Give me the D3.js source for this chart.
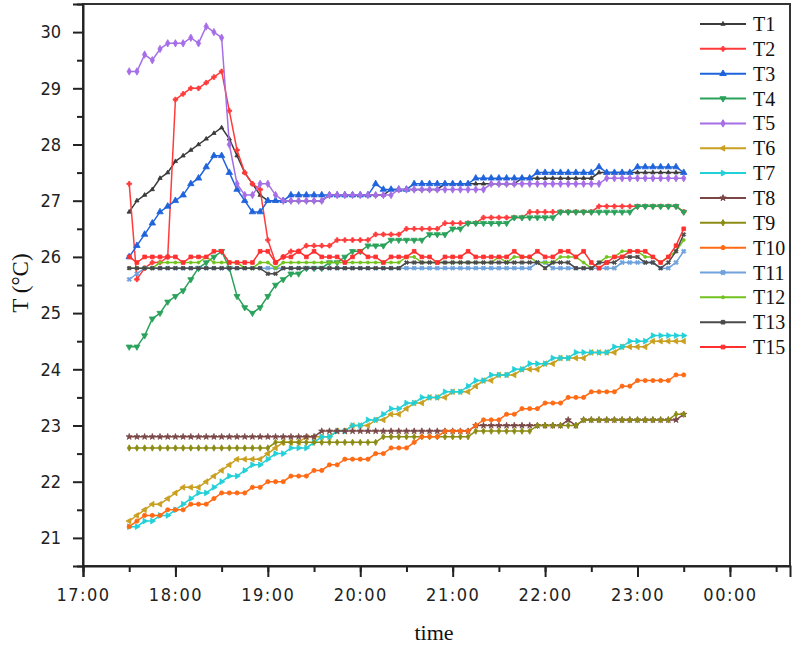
<!DOCTYPE html>
<html>
<head>
<meta charset="utf-8">
<script src="https://cdn.jsdelivr.net/npm/d3@7"></script>
<style>
body { margin: 0; background: #fff; }
.axis .tick text { font-family: "DejaVu Sans Condensed", "DejaVu Sans", sans-serif; font-size: 18px; fill: #222; }
.axis path, .axis line { stroke: #222; stroke-width: 2; }
.serif { font-family: "Liberation Serif", "Times New Roman", serif; fill: #111; }
</style>
</head>
<body>
<div id="chart"></div>
<script>
// sample times, every 5 minutes
let times = [
    "17:30","17:35","17:40","17:45","17:50","17:55",
    "18:00","18:05","18:10","18:15","18:20","18:25","18:30","18:35","18:40","18:45","18:50","18:55",
    "19:00","19:05","19:10","19:15","19:20","19:25","19:30","19:35","19:40","19:45","19:50","19:55",
    "20:00","20:05","20:10","20:15","20:20","20:25","20:30","20:35","20:40","20:45","20:50","20:55",
    "21:00","21:05","21:10","21:15","21:20","21:25","21:30","21:35","21:40","21:45","21:50","21:55",
    "22:00","22:05","22:10","22:15","22:20","22:25","22:30","22:35","22:40","22:45","22:50","22:55",
    "23:00","23:05","23:10","23:15","23:20","23:25","23:30"
];

let T1 = [26.8,27.0,27.1,27.2,27.4,27.5, 27.7,27.8,27.9,28.0,28.1,28.2, 28.3,28.1,27.8,27.5,27.3,27.1,
    27.0,27.0,27.0,27.0,27.0,27.0, 27.0,27.0,27.1,27.1,27.1,27.1, 27.1,27.1,27.1,27.1,27.2,27.2,
    27.2,27.2,27.2,27.2,27.2,27.3, 27.3,27.3,27.3,27.3,27.3,27.3, 27.3,27.3,27.3,27.4,27.4,27.4,
    27.4,27.4,27.4,27.4,27.4,27.4, 27.4,27.5,27.5,27.5,27.5,27.5, 27.5,27.5,27.5,27.5,27.5,27.5, 27.5];
let T2 = [27.3,25.6,25.8,25.9,25.9,26.0, 28.8,28.9,29.0,29.0,29.1,29.2, 29.3,28.6,27.9,27.5,27.3,27.2,
    26.3,25.9,26.0,26.1,26.1,26.2, 26.2,26.2,26.2,26.3,26.3,26.3, 26.3,26.3,26.4,26.4,26.4,26.4,
    26.5,26.5,26.5,26.5,26.5,26.6, 26.6,26.6,26.6,26.6,26.7,26.7, 26.7,26.7,26.7,26.7,26.8,26.8,
    26.8,26.8,26.8,26.8,26.8,26.8, 26.8,26.9,26.9,26.9,26.9,26.9, 26.9,26.9,26.9,26.9,26.9,26.9, 26.8];
let T3 = [26.0,26.2,26.4,26.6,26.8,26.9, 27.0,27.1,27.3,27.4,27.6,27.8, 27.8,27.5,27.2,27.0,26.8,26.8,
    27.0,27.0,27.0,27.1,27.1,27.1, 27.1,27.1,27.1,27.1,27.1,27.1, 27.1,27.1,27.3,27.2,27.2,27.2,
    27.2,27.3,27.3,27.3,27.3,27.3, 27.3,27.3,27.3,27.4,27.4,27.4, 27.4,27.4,27.4,27.4,27.4,27.5,
    27.5,27.5,27.5,27.5,27.5,27.5, 27.5,27.6,27.5,27.5,27.5,27.5, 27.6,27.6,27.6,27.6,27.6,27.6, 27.5];
let T4 = [24.4,24.4,24.6,24.9,25.0,25.2, 25.3,25.4,25.6,25.8,25.9,26.0, 26.1,25.8,25.3,25.1,25.0,25.1,
    25.3,25.5,25.6,25.7,25.7,25.8, 25.8,25.8,25.9,25.9,26.0,26.1, 26.1,26.2,26.2,26.2,26.3,26.3,
    26.3,26.3,26.3,26.4,26.4,26.4, 26.5,26.5,26.6,26.6,26.6,26.6, 26.6,26.6,26.7,26.7,26.7,26.7,
    26.7,26.7,26.8,26.8,26.8,26.8, 26.8,26.8,26.8,26.8,26.8,26.8, 26.9,26.9,26.9,26.9,26.9,26.9, 26.8];
let T5 = [29.3,29.3,29.6,29.5,29.7,29.8, 29.8,29.8,29.9,29.8,30.1,30.0, 29.9,28.0,27.3,27.1,27.1,27.3,
    27.3,27.1,27.0,27.0,27.0,27.0, 27.0,27.0,27.1,27.1,27.1,27.1, 27.1,27.1,27.1,27.1,27.1,27.2,
    27.2,27.2,27.2,27.2,27.2,27.2, 27.2,27.2,27.2,27.2,27.2,27.3, 27.3,27.3,27.3,27.3,27.3,27.3,
    27.3,27.3,27.3,27.3,27.3,27.3, 27.3,27.3,27.4,27.4,27.4,27.4, 27.4,27.4,27.4,27.4,27.4,27.4, 27.4];
let T6 = [21.3,21.4,21.5,21.6,21.6,21.7, 21.8,21.9,21.9,21.9,22.0,22.1, 22.2,22.3,22.4,22.4,22.4,22.4,
    22.5,22.6,22.7,22.7,22.7,22.8, 22.8,22.8,22.8,22.9,22.9,23.0, 23.0,23.0,23.1,23.1,23.2,23.2,
    23.3,23.4,23.4,23.5,23.5,23.5, 23.6,23.6,23.6,23.7,23.8,23.8, 23.9,23.9,23.9,24.0,24.0,24.0,
    24.1,24.1,24.2,24.2,24.2,24.2, 24.3,24.3,24.3,24.3,24.4,24.4, 24.4,24.4,24.5,24.5,24.5,24.5, 24.5];
let T7 = [21.2,21.2,21.3,21.3,21.4,21.4, 21.5,21.6,21.7,21.8,21.8,21.9, 22.0,22.1,22.1,22.2,22.3,22.3,
    22.4,22.5,22.5,22.6,22.6,22.6, 22.7,22.8,22.8,22.9,22.9,23.0, 23.0,23.1,23.1,23.2,23.3,23.3,
    23.4,23.4,23.5,23.5,23.5,23.6, 23.6,23.6,23.7,23.8,23.8,23.9, 23.9,23.9,24.0,24.0,24.1,24.1,
    24.1,24.2,24.2,24.2,24.3,24.3, 24.3,24.3,24.3,24.4,24.4,24.5, 24.5,24.5,24.6,24.6,24.6,24.6, 24.6];
let T8 = [22.8,22.8,22.8,22.8,22.8,22.8, 22.8,22.8,22.8,22.8,22.8,22.8, 22.8,22.8,22.8,22.8,22.8,22.8,
    22.8,22.8,22.8,22.8,22.8,22.8, 22.8,22.9,22.9,22.9,22.9,22.9, 22.9,22.9,22.9,22.9,22.9,22.9,
    22.9,22.9,22.9,22.9,22.9,22.9, 22.9,22.9,22.9,23.0,23.0,23.0, 23.0,23.0,23.0,23.0,23.0,23.0,
    23.0,23.0,23.0,23.1,23.0,23.1, 23.1,23.1,23.1,23.1,23.1,23.1, 23.1,23.1,23.1,23.1,23.1,23.1, 23.2];
let T9 = [22.6,22.6,22.6,22.6,22.6,22.6, 22.6,22.6,22.6,22.6,22.6,22.6, 22.6,22.6,22.6,22.6,22.6,22.6,
    22.6,22.7,22.7,22.7,22.7,22.7, 22.7,22.7,22.7,22.7,22.7,22.7, 22.7,22.7,22.7,22.8,22.8,22.8,
    22.8,22.8,22.8,22.8,22.8,22.8, 22.8,22.8,22.8,22.9,22.9,22.9, 22.9,22.9,22.9,22.9,22.9,23.0,
    23.0,23.0,23.0,23.0,23.0,23.1, 23.1,23.1,23.1,23.1,23.1,23.1, 23.1,23.1,23.1,23.1,23.1,23.2, 23.2];
let T10 = [21.2,21.3,21.4,21.4,21.4,21.5, 21.5,21.5,21.6,21.6,21.6,21.7, 21.8,21.8,21.8,21.8,21.9,21.9,
    22.0,22.0,22.0,22.1,22.1,22.1, 22.2,22.2,22.3,22.3,22.4,22.4, 22.4,22.4,22.5,22.5,22.6,22.6,
    22.6,22.7,22.8,22.8,22.8,22.9, 22.9,22.9,22.9,23.0,23.1,23.1, 23.1,23.2,23.2,23.3,23.3,23.3,
    23.4,23.4,23.4,23.5,23.5,23.5, 23.6,23.6,23.6,23.6,23.7,23.7, 23.8,23.8,23.8,23.8,23.8,23.9, 23.9];
let T11 = [25.6,25.7,25.8,25.8,25.8,25.8, 25.8,25.8,25.8,25.8,25.8,25.8, 25.8,25.8,25.8,25.8,25.8,25.8,
    25.8,25.8,25.8,25.8,25.8,25.8, 25.8,25.8,25.8,25.8,25.8,25.8, 25.8,25.8,25.8,25.8,25.8,25.8,
    25.8,25.8,25.8,25.8,25.8,25.8, 25.8,25.8,25.8,25.8,25.8,25.8, 25.8,25.8,25.8,25.8,25.8,25.9,
    25.9,25.8,25.8,25.8,25.8,25.8, 25.8,25.8,25.8,25.8,25.9,25.9, 25.9,25.9,25.9,25.8,25.8,25.9, 26.1];
let T12 = [25.8,25.8,25.8,25.8,25.9,25.9, 25.9,25.9,25.9,25.9,26.0,25.9, 25.9,25.9,25.9,25.8,25.8,25.9,
    25.9,25.8,25.9,25.9,25.9,25.9, 25.9,25.9,25.9,25.9,25.9,25.9, 25.9,25.9,25.9,25.9,25.9,25.9,
    26.0,26.0,25.9,25.9,25.9,25.9, 25.9,25.9,25.9,25.9,25.9,25.9, 26.0,25.9,26.0,26.0,26.0,25.9,
    25.9,25.9,26.0,26.0,26.0,25.9, 25.8,25.9,26.0,26.0,26.1,26.1, 26.1,26.0,26.0,25.9,26.0,26.1, 26.3];
let T13 = [25.8,25.8,25.8,25.8,25.8,25.8, 25.8,25.8,25.8,25.8,25.8,25.8, 25.8,25.8,25.8,25.8,25.8,25.8,
    25.7,25.7,25.8,25.8,25.8,25.8, 25.8,25.8,25.8,25.8,25.8,25.8, 25.8,25.8,25.8,25.8,25.8,25.8,
    25.9,25.9,25.9,25.9,25.9,25.9, 25.9,25.9,25.9,25.9,25.9,25.9, 25.9,25.9,25.9,25.9,25.9,25.9,
    25.8,25.9,25.9,25.9,25.8,25.8, 25.8,25.9,25.9,25.9,26.0,26.0, 26.0,25.9,25.9,25.8,25.9,26.1, 26.4];
let T15 = [26.0,25.9,26.0,26.0,26.0,26.0, 26.0,25.9,26.0,26.0,26.0,26.1, 26.1,25.9,25.9,25.9,25.9,26.1,
    26.1,25.9,26.0,26.0,26.1,26.0, 26.1,26.0,26.0,26.0,25.9,26.0, 26.1,26.0,26.0,25.9,26.0,26.0,
    26.0,26.1,26.0,26.0,25.9,26.0, 26.0,26.0,26.1,26.0,26.0,26.0, 26.0,26.0,26.1,26.0,26.0,26.1,
    26.0,26.0,26.1,26.1,26.0,26.1, 25.9,25.8,25.9,26.0,26.0,26.1, 26.1,26.1,26.0,25.9,26.0,26.2, 26.5];

let names = ["T1", "T2", "T3", "T4", "T5", "T6", "T7", "T8", "T9", "T10", "T11", "T12", "T13", "T15"];
let values = [T1, T2, T3, T4, T5, T6, T7, T8, T9, T10, T11, T12, T13, T15];
let yTicks = [21, 22, 23, 24, 25, 26, 27, 28, 29, 30];

let colors = ["#3a3a3a", "#ff3b3b", "#1f63dc", "#2aa25a", "#a66ee6", "#c9a021", "#22d0d8",
    "#7a4646", "#8c8c14", "#ff6a14", "#6fa2dc", "#72c21e", "#4a4a4a", "#ff3030"];
let shapes = [d3.symbolTriangle, d3.symbolCross, d3.symbolTriangle, d3.symbolTriangle, d3.symbolDiamond,
    d3.symbolTriangle, d3.symbolTriangle, d3.symbolStar, d3.symbolDiamond, d3.symbolCircle,
    d3.symbolCross, d3.symbolCircle, d3.symbolCross, d3.symbolSquare];
let rotations = [0, 0, 0, 180, 0, -90, 90, 0, 0, 0, 45, 0, 45, 0];
let sizes = [8, 12, 18, 16, 16, 14, 14, 12, 12, 14, 12, 7, 10, 14];

let width = 795, height = 646;
let margin = { left: 83, top: 4, right: 5, bottom: 80 };

let parseTime = d3.timeParse("%H:%M");
let timePoints = times.map(parseTime);

let svg = d3.select("#chart").append("svg")
    .attr("width", width)
    .attr("height", height);

let x = d3.scaleTime()
    .domain([parseTime("17:00"), d3.timeDay.offset(parseTime("00:39"), 1)])
    .range([margin.left, width - margin.right]);

let y = d3.scaleLinear()
    .domain([20.5, 30.5])
    .range([height - margin.bottom, margin.top]);

// frame
svg.append("rect")
    .attr("x", margin.left)
    .attr("y", margin.top)
    .attr("width", width - margin.right - margin.left)
    .attr("height", height - margin.bottom - margin.top)
    .attr("fill", "none")
    .attr("stroke", "#333")
    .attr("stroke-width", 2);

// minor ticks first, then labelled ones
svg.append("g")
    .attr("class", "axis")
    .attr("transform", `translate(${margin.left},0)`)
    .call(d3.axisLeft(y).tickValues(d3.range(20.5, 30.6, 1)).tickSize(6).tickFormat(""))
    .call(g => g.select(".domain").remove());

svg.append("g")
    .attr("class", "axis")
    .attr("transform", `translate(${margin.left},0)`)
    .call(d3.axisLeft(y).tickValues(yTicks).tickSize(10).tickPadding(12).tickFormat(d3.format("d")));

svg.append("g")
    .attr("class", "axis")
    .attr("transform", `translate(0,${height - margin.bottom})`)
    .call(d3.axisBottom(x).ticks(d3.timeMinute.every(30)).tickSize(6).tickFormat(""))
    .call(g => g.select(".domain").remove());

svg.append("g")
    .attr("class", "axis")
    .attr("transform", `translate(0,${height - margin.bottom})`)
    .call(d3.axisBottom(x).ticks(d3.timeHour.every(1)).tickSize(11).tickPadding(11)
        .tickFormat(d3.timeFormat("%H:%M")))
    .call(g => g.selectAll(".tick text").attr("letter-spacing", 1.5));

// axis titles
svg.append("text")
    .attr("class", "serif")
    .attr("x", 434)
    .attr("y", 640)
    .attr("text-anchor", "middle")
    .attr("font-size", 22)
    .text("time");

svg.append("text")
    .attr("class", "serif")
    .attr("transform", "translate(28,283) rotate(-90)")
    .attr("text-anchor", "middle")
    .attr("font-size", 23)
    .text("T (°C)");

let line = d3.line()
    .x((d, i) => x(timePoints[i]))
    .y(d => y(d));

function markerPath(k) {
    return d3.symbol().type(shapes[k]).size(sizes[k])();
}

// draw each series with its markers
names.forEach((name, k) => {
    let g = svg.append("g");
    g.append("path")
        .datum(values[k])
        .attr("d", line)
        .attr("fill", "none")
        .attr("stroke", colors[k])
        .attr("stroke-width", 1.5);
    g.selectAll("path.mk")
        .data(values[k])
        .enter().append("path")
        .attr("class", "mk")
        .attr("d", markerPath(k))
        .attr("transform", (d, i) => `translate(${x(timePoints[i])},${y(d)}) rotate(${rotations[k]})`)
        .attr("fill", colors[k])
        .attr("stroke", colors[k])
        .attr("stroke-width", 0.8);
});

// legend
let legend = svg.append("g")
    .attr("transform", "translate(700,24)");

let items = legend.selectAll("g")
    .data(names)
    .enter().append("g")
    .attr("transform", (d, i) => `translate(0,${i * 24.85})`);

items.append("line")
    .attr("x1", 0)
    .attr("x2", 46)
    .attr("stroke", (d, i) => colors[i])
    .attr("stroke-width", 2);

items.append("path")
    .attr("d", (d, i) => markerPath(i))
    .attr("transform", (d, i) => `translate(23,0) rotate(${rotations[i]})`)
    .attr("fill", (d, i) => colors[i])
    .attr("stroke", (d, i) => colors[i]);

items.append("text")
    .attr("class", "serif")
    .attr("x", 53)
    .attr("dy", "0.35em")
    .attr("font-size", 20)
    .text(d => d);
</script>
</body>
</html>
